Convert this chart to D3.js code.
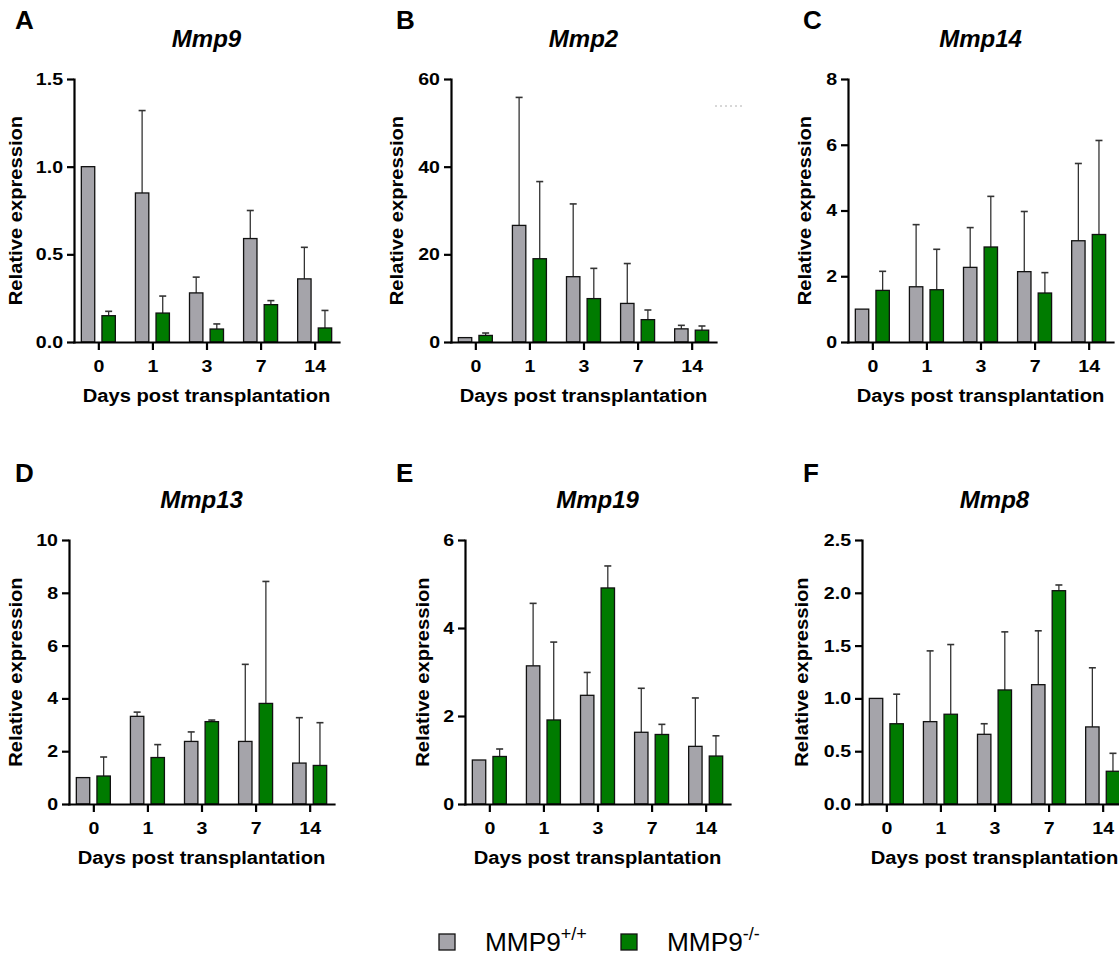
<!DOCTYPE html>
<html>
<head>
<meta charset="utf-8">
<script src="https://cdn.jsdelivr.net/npm/d3@7"></script>
<style>
body { margin: 0; background: #fff; }
svg text { font-family: "Liberation Sans", Arial, sans-serif; fill: #000; }
</style>
</head>
<body>
<svg id="fig" width="1119" height="956"></svg>
<script>
// ---- data ----
var days = ["0", "1", "3", "7", "14"];
var groups = ["wt", "ko"];
var groupLabels = ["MMP9", "MMP9"];
var groupSup = ["+/+", "-/-"];
var genes = ["Mmp9", "Mmp2", "Mmp14", "Mmp13", "Mmp19", "Mmp8"];
var letters = ["A", "B", "C", "D", "E", "F"];
var yMax = [1.5, 60, 8, 10, 6, 2.5];
var yTicks = [
	[0, 0.5, 1, 1.5],
	[0, 20, 40, 60],
	[0, 2, 4, 6, 8],
	[0, 2, 4, 6, 8, 10],
	[0, 2, 4, 6],
	[0, 0.5, 1, 1.5, 2, 2.5]
];
var tickFormats = [".1f", "d", "d", "d", "d", ".1f"];

// mean and SD (upper error) per gene, per day
var wtMean = [
	[1.0, 0.85, 0.28, 0.59, 0.36],
	[1.0, 26.6, 14.9, 8.8, 3.0],
	[1.0, 1.68, 2.27, 2.14, 3.08],
	[1.0, 3.32, 2.37, 2.37, 1.55],
	[1.0, 3.14, 2.47, 1.63, 1.31],
	[1.0, 0.78, 0.66, 1.13, 0.73]
];
var wtSd = [
	[0, 0.47, 0.09, 0.16, 0.18],
	[0, 29.2, 16.6, 9.1, 0.8],
	[0, 1.89, 1.21, 1.83, 2.35],
	[0, 0.16, 0.36, 2.92, 1.72],
	[0, 1.42, 0.52, 1.0, 1.1],
	[0, 0.67, 0.10, 0.51, 0.56]
];
var koMean = [
	[0.15, 0.165, 0.074, 0.213, 0.08],
	[1.5, 19.0, 9.9, 5.1, 2.7],
	[1.57, 1.59, 2.89, 1.49, 3.27],
	[1.06, 1.76, 3.12, 3.81, 1.46],
	[1.08, 1.91, 4.91, 1.58, 1.09],
	[0.76, 0.85, 1.08, 2.02, 0.31]
];
var koSd = [
	[0.025, 0.097, 0.029, 0.023, 0.10],
	[0.55, 17.6, 6.9, 2.2, 0.95],
	[0.58, 1.23, 1.54, 0.62, 2.86],
	[0.72, 0.49, 0.06, 4.62, 1.62],
	[0.17, 1.77, 0.50, 0.23, 0.46],
	[0.28, 0.66, 0.55, 0.054, 0.17]
];

// ---- layout ----
var colors = { wt: "#a5a4aa", ko: "#007b00" };
var plotW = 265;
var layout = [
	{ left: 74, top: 79, bottom: 342, lx: 15, ly: 29, ty: 47, yt: 22 },
	{ left: 451, top: 79, bottom: 342, lx: 396, ly: 29, ty: 47, yt: 403 },
	{ left: 848, top: 79, bottom: 342, lx: 803, ly: 29, ty: 47, yt: 811 },
	{ left: 69, top: 540, bottom: 804, lx: 15, ly: 482, ty: 508, yt: 22 },
	{ left: 465, top: 540, bottom: 804, lx: 396, ly: 482, ty: 508, yt: 429 },
	{ left: 862, top: 540, bottom: 804, lx: 803, ly: 482, ty: 508, yt: 808 }
];

var svg = d3.select("#fig");

function stretch(sel, k) {
	sel.each(function() {
		var t = this.getComputedTextLength();
		d3.select(this).attr("textLength", t * k).attr("lengthAdjust", "spacingAndGlyphs");
	});
}

genes.forEach(function(gene, i) {
	drawPanel(i);
});

function drawPanel(i) {
	var L = layout[i];
	var h = L.bottom - L.top;
	var g = svg.append("g").attr("transform", "translate(" + L.left + "," + L.top + ")");

	var x = d3.scalePoint().domain(days).range([0, plotW]).padding(0.45);
	var xs = d3.scaleBand().domain(groups).range([-17, 17]).paddingInner(0.35);
	var y = d3.scaleLinear().domain([0, yMax[i]]).range([h, 0]);

	var rows = [];
	days.forEach(function(d, j) {
		rows.push({ day: d, grp: "wt", mean: wtMean[i][j], sd: wtSd[i][j] });
		rows.push({ day: d, grp: "ko", mean: koMean[i][j], sd: koSd[i][j] });
	});

	// error bars (upper only)
	var eb = g.append("g").attr("class", "errs")
		.selectAll("g").data(rows.filter(function(r) { return r.sd > 0; }))
		.enter().append("g")
		.attr("stroke", "#333").attr("stroke-width", 1.3);
	eb.append("line")
		.attr("x1", function(r) { return x(r.day) + xs(r.grp) + xs.bandwidth() / 2; })
		.attr("x2", function(r) { return x(r.day) + xs(r.grp) + xs.bandwidth() / 2; })
		.attr("y1", function(r) { return y(r.mean); })
		.attr("y2", function(r) { return y(r.mean + r.sd); });
	eb.append("line")
		.attr("x1", function(r) { return x(r.day) + xs(r.grp) + xs.bandwidth() / 2 - 3.5; })
		.attr("x2", function(r) { return x(r.day) + xs(r.grp) + xs.bandwidth() / 2 + 3.5; })
		.attr("y1", function(r) { return y(r.mean + r.sd); })
		.attr("y2", function(r) { return y(r.mean + r.sd); })
		.attr("stroke-width", 1.6);

	// bars
	g.append("g").selectAll("rect").data(rows).enter().append("rect")
		.attr("x", function(r) { return x(r.day) + xs(r.grp); })
		.attr("width", xs.bandwidth())
		.attr("y", function(r) { return y(r.mean); })
		.attr("height", function(r) { return h - y(r.mean); })
		.attr("fill", function(r) { return colors[r.grp]; })
		.attr("stroke", "#111").attr("stroke-width", 1.3);

	// axes
	var yAxis = d3.axisLeft(y).tickValues(yTicks[i]).tickFormat(d3.format(tickFormats[i]))
		.tickSize(7).tickPadding(4).tickSizeOuter(0);
	var xAxis = d3.axisBottom(x).tickSize(8).tickPadding(10).tickSizeOuter(0);

	var ya = g.append("g").call(yAxis);
	var xa = g.append("g").attr("transform", "translate(0," + h + ")").call(xAxis);
	[ya, xa].forEach(function(a) {
		a.select(".domain").attr("stroke", "#000").attr("stroke-width", 2.2).attr("stroke-linecap", "square");
		a.selectAll(".tick line").attr("stroke", "#000").attr("stroke-width", 2.2);
		a.selectAll(".tick text").attr("font-size", 17).attr("font-weight", "bold")
			.attr("font-family", "Liberation Sans, Arial, sans-serif").attr("fill", "#000");
		stretch(a.selectAll(".tick text"), 1.15);
	});

	// texts
	svg.append("text").attr("x", L.lx).attr("y", L.ly)
		.attr("font-size", 26).attr("font-weight", "bold").text(letters[i]);
	svg.append("text").attr("x", L.left + plotW / 2).attr("y", L.ty)
		.attr("text-anchor", "middle").attr("font-size", 24)
		.attr("font-weight", "bold").attr("font-style", "italic").text(genes[i]);
	var xt = svg.append("text").attr("x", L.left + plotW / 2).attr("y", L.bottom + 60)
		.attr("text-anchor", "middle").attr("font-size", 18).attr("font-weight", "bold")
		.text("Days post transplantation");
	stretch(xt, 1.12);
	var yt = svg.append("text")
		.attr("transform", "translate(" + L.yt + "," + (L.top + L.bottom) / 2 + ") rotate(-90)")
		.attr("text-anchor", "middle").attr("font-size", 18).attr("font-weight", "bold")
		.text("Relative expression");
	stretch(yt, 1.12);
}

// stray dashed mark in panel B
svg.append("line").attr("x1", 715).attr("x2", 742).attr("y1", 106).attr("y2", 106)
	.attr("stroke", "#b0b0b0").attr("stroke-width", 1).attr("stroke-dasharray", "2,3");

// legend
var legX = [439, 621];
groups.forEach(function(gr, k) {
	svg.append("rect").attr("x", legX[k]).attr("y", 934).attr("width", 16).attr("height", 16)
		.attr("fill", colors[gr]).attr("stroke", "#111").attr("stroke-width", 1.3);
	var t = svg.append("text").attr("x", legX[k] + 46).attr("y", 951).attr("font-size", 25);
	var main = t.append("tspan").text(groupLabels[k]);
	stretch(main, 1.05);
	t.append("tspan").attr("font-size", 18).attr("dy", -11).text(groupSup[k]);
});
</script>
</body>
</html>
